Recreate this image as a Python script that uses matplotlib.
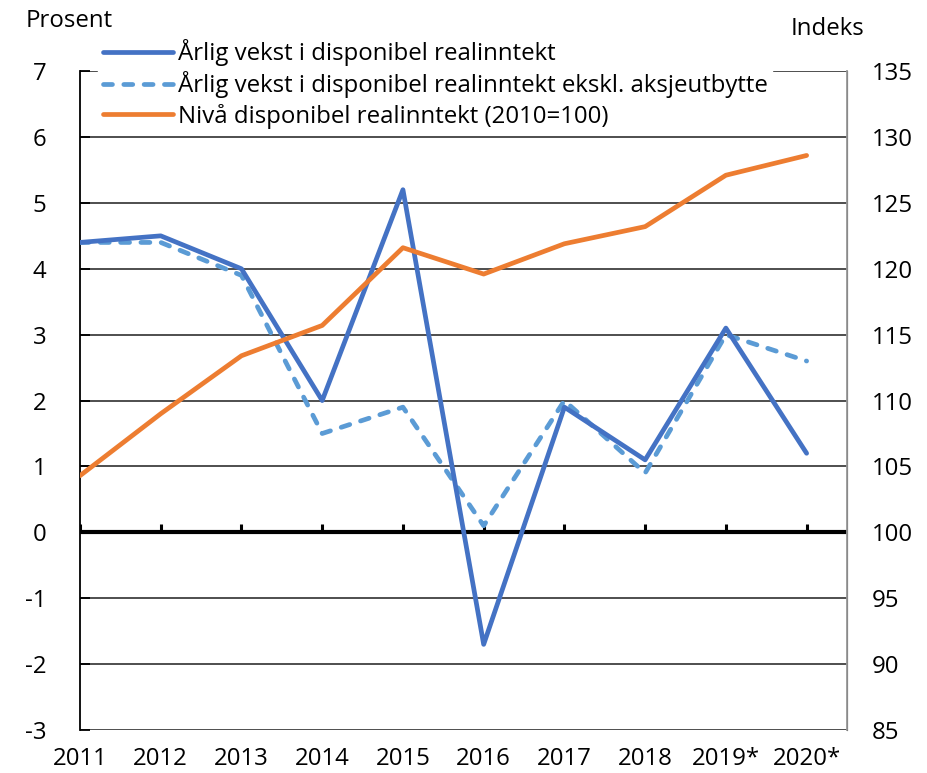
import matplotlib.pyplot as plt

# Data lest av fra figuren
years = ['2011', '2012', '2013', '2014', '2015', '2016', '2017', '2018', '2019*', '2020*']
vekst = [4.4, 4.5, 4.0, 2.0, 5.2, -1.7, 1.9, 1.1, 3.1, 1.2]
vekst_ekskl = [4.4, 4.4, 3.9, 1.5, 1.9, 0.1, 2.0, 0.9, 3.0, 2.6]
niva = [104.3, 109.0, 113.4, 115.7, 121.6, 119.6, 121.9, 123.2, 127.1, 128.6]

plt.rcParams['font.family'] = ['Open Sans', 'DejaVu Sans']
fs = 17.3

fig = plt.figure(figsize=(9.28, 7.73), dpi=100)
ax = fig.add_axes([0.0862, 0.0556, 0.8265, 0.8524])
ax2 = ax.twinx()

x = list(range(len(years)))

# Grid og nullinje
ax.set_ylim(-3, 7)
ax.set_yticks(range(-3, 8))
ax.set_yticklabels([str(v) for v in range(-3, 8)])
ax.grid(axis='y', color='#404040', lw=1.3, zorder=0)
ax.axhline(0, color='black', lw=3, zorder=2)
ax.vlines(x, 0, 0.13, color='black', lw=2.2, zorder=2)
ax.set_xlim(0, len(years) - 0.5)
ax.set_xticks(x)
ax.set_xticklabels(years)
ax.tick_params(axis='x', length=0, labelsize=fs, pad=12)
ax.tick_params(axis='y', direction='in', length=7, width=1.3, labelsize=fs, pad=24)

ax.spines['top'].set_visible(False)
ax.spines['bottom'].set_visible(False)
ax.spines['left'].set_color('black')
ax.spines['left'].set_linewidth(1.3)

ax2.set_ylim(85, 135)
ax2.set_yticks(range(85, 136, 5))
ax2.tick_params(axis='y', length=0, labelsize=fs, pad=18)
for s in ['top', 'bottom', 'left']:
    ax2.spines[s].set_visible(False)
ax2.spines['right'].set_color('#999999')
ax2.spines['right'].set_linewidth(1.3)

# Vekstserier i prosent (venstre akse), tegnet på ax2 så de ligger over
p1, = ax2.plot(x, vekst, color='#4472C4', lw=3.4, solid_capstyle='round',
               transform=ax.transData, zorder=4,
               label='Årlig vekst i disponibel realinntekt')
p2, = ax2.plot(x, vekst_ekskl, color='#5B9BD5', lw=3.4, dashes=(1.9, 2.4),
               dash_capstyle='round', transform=ax.transData, zorder=3,
               label='Årlig vekst i disponibel realinntekt ekskl. aksjeutbytte')
# Nivå (høyre akse)
p3, = ax2.plot(x, niva, color='#ED7D31', lw=3.4, solid_capstyle='round', zorder=5,
               label='Nivå disponibel realinntekt (2010=100)')

leg = ax2.legend(handles=[p1, p2, p3], loc='upper left', bbox_to_anchor=(0.024, 1.056),
                 frameon=True, fancybox=False, edgecolor='white', facecolor='white',
                 framealpha=1, fontsize=fs, handlelength=2.9, handletextpad=0.2,
                 labelspacing=0.22, borderpad=0.2, borderaxespad=0)
leg.set_zorder(10)

fig.text(0.028, 0.973, 'Prosent', fontsize=fs, ha='left', va='center')
fig.text(0.852, 0.963, 'Indeks', fontsize=fs, ha='left', va='center')

fig.savefig('out.png', dpi=100)
